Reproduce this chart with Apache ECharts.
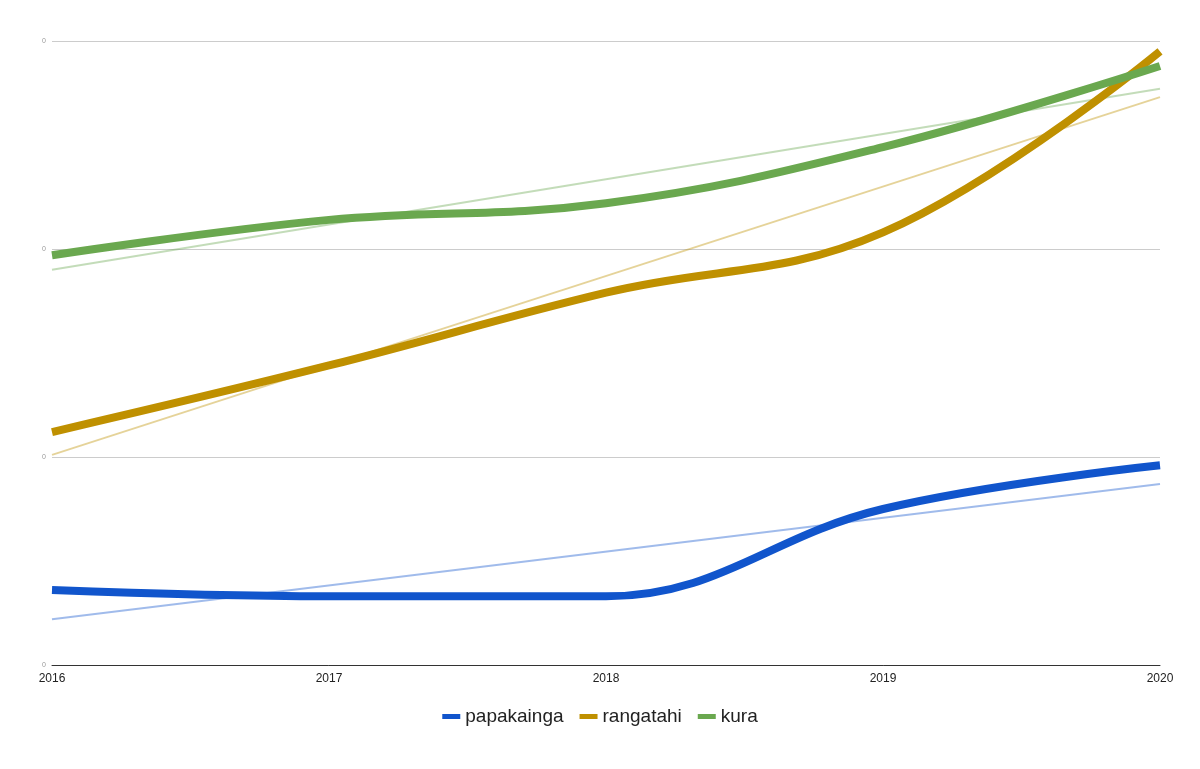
<!DOCTYPE html>
<html>
<head>
<meta charset="utf-8">
<script src="https://cdn.jsdelivr.net/npm/echarts@6/dist/echarts.min.js"></script>
<style>html,body{margin:0;background:#fff}#chart{width:1200px;height:769px}</style>
</head>
<body>
<div id="chart"></div>
<script>
var years = [2016, 2017, 2018, 2019, 2020];
var papakainga = [0.36, 0.33, 0.33, 0.75, 0.96];
var rangatahi = [1.12, 1.44, 1.79, 2.08, 2.95];
var kura = [1.97, 2.14, 2.22, 2.49, 2.88];
// trendline end points (2016, 2020)
var papakaingaTrend = [0.22, 0.87];
var rangatahiTrend = [1.01, 2.73];
var kuraTrend = [1.90, 2.77];

var colors = {papakainga: '#1155cc', rangatahi: '#bf9000', kura: '#6aa84f'};

function pairs(vals){
    return years.map(function(y, i){ return [y, vals[i]]; });
}
function trend(vals){
    return [[years[0], vals[0]], [years[years.length-1], vals[1]]];
}
function mainSeries(name, vals){
    return {
        name: name, type: 'line', data: pairs(vals), smooth: 0.4,
        symbol: 'none', lineStyle: {width: 8, color: colors[name]},
        itemStyle: {color: colors[name]}, z: 3
    };
}
function trendSeries(name, vals){
    return {
        name: name + ' trend', type: 'line', data: trend(vals),
        symbol: 'none', lineStyle: {width: 2, color: colors[name], opacity: 0.4},
        silent: true, z: 2
    };
}

var chart = echarts.init(document.getElementById('chart'));
chart.setOption({
    animation: false,
    grid: {left: 52, right: 40, top: 41, bottom: 104},
    legend: {
        data: ['papakainga', 'rangatahi', 'kura'],
        bottom: 38, itemWidth: 18, itemHeight: 5, itemGap: 16, icon: 'rect',
        textStyle: {fontSize: 19, color: '#222', fontFamily: 'Arial, Liberation Sans'}
    },
    xAxis: {
        type: 'value', min: 2016, max: 2020, interval: 1,
        axisLine: {lineStyle: {color: '#333'}},
        axisTick: {show: false}, splitLine: {show: false},
        axisLabel: {color: '#222', fontSize: 12, margin: 8,
            fontFamily: 'Arial, Liberation Sans', formatter: function(v){ return String(v); }}
    },
    yAxis: {
        type: 'value', min: 0, max: 3, interval: 1,
        axisLine: {show: false}, axisTick: {show: false},
        splitLine: {lineStyle: {color: '#ccc'}},
        axisLabel: {color: '#999', fontSize: 7, margin: 6, formatter: function(){ return '0'; }}
    },
    series: [
        trendSeries('papakainga', papakaingaTrend),
        trendSeries('rangatahi', rangatahiTrend),
        trendSeries('kura', kuraTrend),
        mainSeries('papakainga', papakainga),
        mainSeries('rangatahi', rangatahi),
        mainSeries('kura', kura)
    ]
});
</script>
</body>
</html>
